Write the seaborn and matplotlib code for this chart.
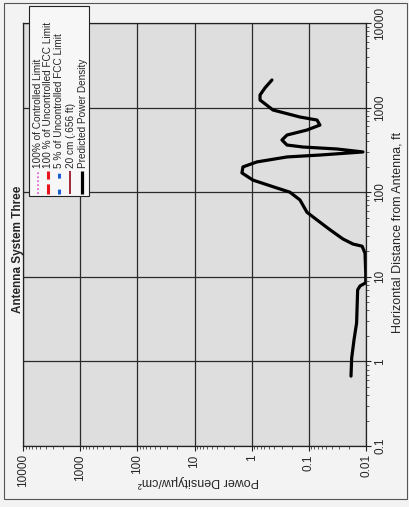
import numpy as np
import pandas as pd
import matplotlib
matplotlib.use("Agg")
import matplotlib.pyplot as plt
import seaborn as sns
from matplotlib.lines import Line2D
from matplotlib.patches import Rectangle
from matplotlib.ticker import LogLocator, NullFormatter
from matplotlib.transforms import Affine2D

# Predicted power density along the horizontal distance from the antenna
distance_ft = [0.67, 1.1, 1.8, 2.85, 7.0, 7.8, 8.5, 11, 19, 23, 24.4, 28, 36,
               47, 58, 81, 100, 112, 139, 169, 199, 228, 261, 275, 299, 324,
               342, 361, 414, 474, 543, 622, 713, 774, 937, 1230, 1410, 1710,
               2120]
power_density = [0.0183, 0.0178, 0.0162, 0.0146, 0.0140, 0.0127, 0.0101,
                 0.0101, 0.0104, 0.0117, 0.0169, 0.0253, 0.0427, 0.072, 0.108,
                 0.143, 0.214, 0.36, 0.95, 1.48, 1.42, 0.81, 0.241, 0.064,
                 0.0113, 0.032, 0.126, 0.241, 0.295, 0.241, 0.108, 0.064,
                 0.072, 0.143, 0.424, 0.714, 0.714, 0.585, 0.442]

density_ticks = [10000, 1000, 100, 10, 1, 0.1, 0.01]
density_tick_labels = ["10000", "1000", "100", "10", "1", "0.1", "0.01"]
distance_ticks = [0.1, 1, 10, 100, 1000, 10000]
distance_tick_labels = ["0.1", "1", "10", "100", "1000", "10000"]

legend_labels = ["100% of Controlled Limit",
                 "100 % of Uncontrolled FCC Limit",
                 "5 % of Uncontrolled FCC Limit",
                 "20 cm (.656 ft)",
                 "Predicted Power Density"]

df = pd.DataFrame({"distance_ft": distance_ft, "power_density": power_density})

sns.set_style("ticks")
plt.rcParams["font.family"] = ["Liberation Sans", "DejaVu Sans"]

W, H = 409, 507
fig = plt.figure(figsize=(W / 100, H / 100), dpi=100, facecolor="#f3f3f3")
# pixel positions measured from the top-left corner of the page
px = Affine2D().scale(1 / W, -1 / H).translate(0, 1) + fig.transFigure

ax = fig.add_axes([23 / W, 1 - 446 / H, 343 / W, 423 / H])
ax.set_facecolor("#dedede")
ax.set_xscale("log")
ax.set_yscale("log")

sns.lineplot(data=df, x="power_density", y="distance_ft", sort=False,
             estimator=None, color="black", linewidth=2.3, ax=ax,
             legend=False, solid_capstyle="round", solid_joinstyle="round")

ax.set_xlim(10000, 0.01)
ax.set_ylim(0.1, 10000)

ax.xaxis.tick_bottom()
ax.yaxis.tick_right()
ax.set_xticks(density_ticks)
ax.set_xticklabels(density_tick_labels, rotation=90, fontsize=8.5)
ax.set_yticks(distance_ticks)
ax.set_yticklabels(distance_tick_labels, rotation=90, va="center", fontsize=8.5)
for axis in (ax.xaxis, ax.yaxis):
    axis.set_minor_locator(LogLocator(base=10, subs=np.arange(2, 10), numticks=100))
    axis.set_minor_formatter(NullFormatter())
ax.tick_params(which="major", direction="out", length=3.5, width=0.8,
               color="#222222", pad=2.5)
ax.tick_params(which="minor", direction="out", length=2, width=0.6,
               color="#444444")

ax.grid(True, which="major", color="#2a2a2a", linewidth=0.9)
ax.grid(False, which="minor")
for sp in ax.spines.values():
    sp.set_color("#222222")
    sp.set_linewidth(0.9)
    sp.set_visible(True)

ax.set_xlabel("Power Density\u00b5w/cm\u00b2", rotation=180, fontsize=9,
              va="center", ha="center")
ax.xaxis.set_label_coords((198 - 23) / 343, (446 - 481) / 423)
ax.yaxis.set_label_position("right")
ax.set_ylabel("Horizontal Distance from Antenna, ft", rotation=90,
              fontsize=9, va="center", ha="center")
ax.yaxis.set_label_coords((397 - 23) / 343, (446 - 232) / 423)

fig.text(18, 249, "Antenna System Three", transform=px, rotation=90,
         ha="center", va="center", fontsize=8.5, fontweight="bold")

# page border
fig.add_artist(Rectangle((4, 499), 403, -496, transform=px, fill=False,
                         edgecolor="#555555", linewidth=0.8))

# legend box with vertical samples and upward-reading entries
fig.add_artist(Rectangle((29, 196), 60, -190, transform=px,
                         facecolor="#f7f7f7", edgecolor="#222222",
                         linewidth=0.8, zorder=5))
legend_styles = [
    dict(color="#e066d6", linewidth=1.3, linestyle=(0, (1, 1.2))),
    dict(color="#e8141c", linewidth=2.2, linestyle=(0, (3.3, 1.6))),
    dict(color="#1a5fd0", linewidth=2.2, linestyle=(0, (1.6, 3.6))),
    dict(color="#9a1a2a", linewidth=1.3, linestyle="-"),
    dict(color="black", linewidth=2.3, linestyle="-"),
]
sample_x = [37.5, 48, 58.5, 69.5, 82]
text_x = [38, 48.5, 59.5, 70.5, 82.5]
for lab, sty, hx, tx in zip(legend_labels, legend_styles, sample_x, text_x):
    fig.add_artist(Line2D([hx, hx], [194, 171], transform=px, zorder=6,
                          solid_capstyle="butt", **sty))
    fig.text(tx, 168, lab, transform=px, rotation=90, ha="center",
             va="bottom", fontsize=7.2, zorder=6)

fig.savefig("out.png", dpi=100, facecolor=fig.get_facecolor())
